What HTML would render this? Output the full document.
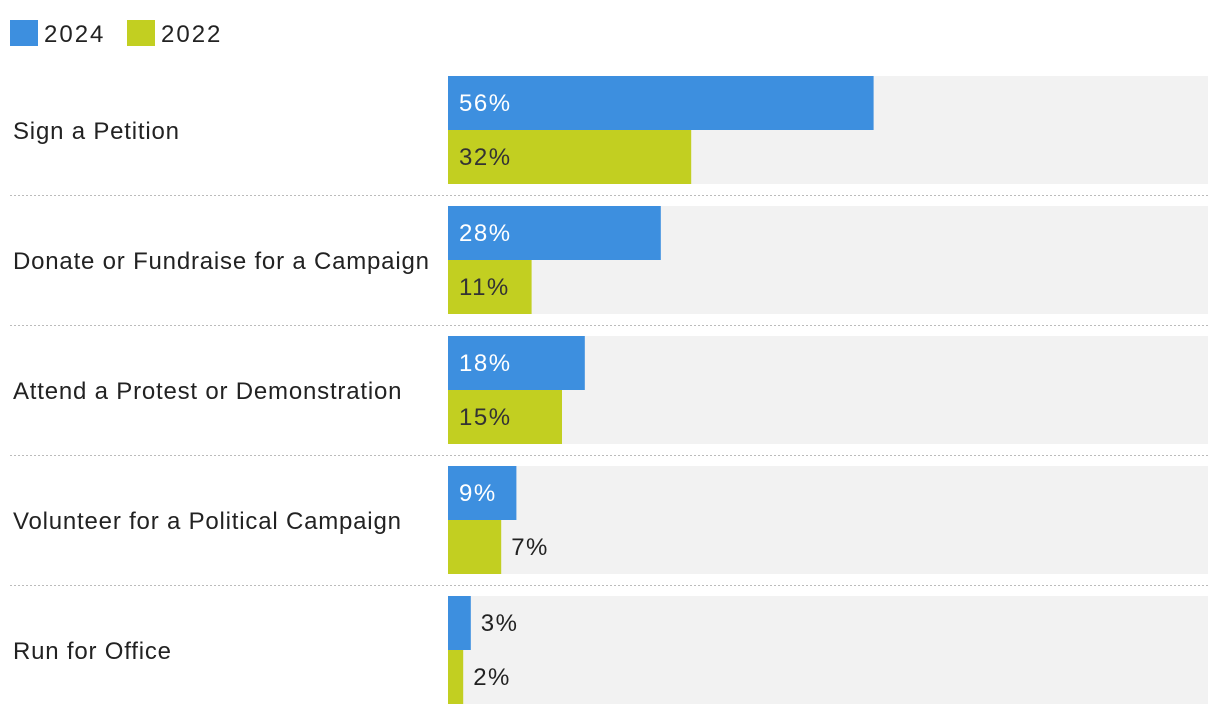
<!DOCTYPE html>
<html><head><meta charset="utf-8"><style>
body{margin:0;background:#fff;width:1220px;height:716px;overflow:hidden;font-family:"Liberation Sans",sans-serif;}
</style></head><body>
<svg id="chart" width="1220" height="716" xmlns="http://www.w3.org/2000/svg">
<g>
<rect x="10" y="20" width="28" height="26" fill="#3d8fdf"/>
<text x="44" y="42" font-size="24" letter-spacing="2" fill="#222">2024</text>
<rect x="127" y="20" width="28" height="26" fill="#c2cf21"/>
<text x="161" y="42" font-size="24" letter-spacing="2" fill="#222">2022</text>
</g>
</svg>
<script>
const categories=["Sign a Petition","Donate or Fundraise for a Campaign","Attend a Protest or Demonstration","Volunteer for a Political Campaign","Run for Office"];
const values2024=[56,28,18,9,3];
const values2022=[32,11,15,7,2];
const svg=document.getElementById('chart');
const NS='http://www.w3.org/2000/svg';
const x0=448, pxPer=7.6, top0=76, groupStep=130, barH=54;
function xs(v){return v*pxPer;}
function mk(tag,attrs){const e=document.createElementNS(NS,tag);for(const k in attrs)e.setAttribute(k,attrs[k]);svg.appendChild(e);return e;}
categories.forEach((c,i)=>{
  const y=top0+i*groupStep;
  const bg=mk('rect',{x:x0,y:y,width:760,height:barH*2,fill:'#f2f2f2'});
  
  
  const lbl=mk('text',{x:13,y:y+barH+9,'font-size':24,'letter-spacing':0.8,fill:'#222'});
  lbl.textContent=c;
  
  
  [[values2024[i],'#3d8fdf','#fff','bar-2024'],[values2022[i],'#c2cf21','#333','bar-2022']].forEach((s,j)=>{
    const by=y+j*barH, w=xs(s[0]);
    const r=mk('rect',{x:x0,y:by,width:w,height:barH,fill:s[1]});
    
    
    const inside=w>=60;
    const t=mk('text',{x:inside?x0+11:x0+w+10,y:by+35,'font-size':24,'letter-spacing':1.5,fill:inside?s[2]:'#222'});
    t.textContent=s[0]+'%';
    
    
  });
  if(i<categories.length-1){
    const l=mk('line',{x1:10,x2:1208,y1:y+119.5,y2:y+119.5,stroke:'#bbb','stroke-width':1,'stroke-dasharray':'2,2'});
    
    
  }
});
</script>
</body></html>
